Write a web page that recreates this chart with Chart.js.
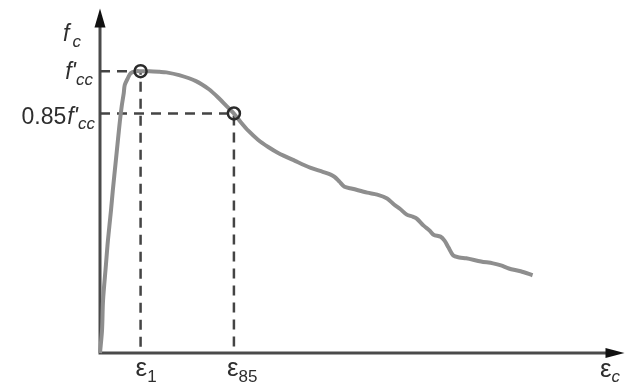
<!DOCTYPE html>
<html>
<head>
<meta charset="utf-8">
<script src="https://cdn.jsdelivr.net/npm/chart.js@4"></script>
<style>
  body { margin: 0; background: #fff; }
  #wrap { width: 633px; height: 383px; }
</style>
</head>
<body>
<div id="wrap"><canvas id="canvas"></canvas></div>
<script>
// strain in units where eps1 = 2.0, stress as fraction of f'cc
var strain = [0, 0.1, 0.15, 0.29, 0.39, 0.54, 0.63, 0.78, 0.88, 0.98, 1.07, 1.17, 1.22, 1.37, 1.51, 1.76, 2.0,
  2.44, 2.93, 3.27, 3.9, 4.73, 5.37, 5.85, 6.24, 6.6, 6.93, 7.32, 7.8, 8.29, 8.78, 9.61, 10.39, 10.98,
  11.37, 11.56, 11.8, 12.05, 12.44, 13.17, 13.66, 14.15, 14.49, 14.78, 15.12, 15.41, 15.61, 15.95, 16.24,
  16.44, 16.78, 16.98, 17.17, 17.41, 17.71, 18.05, 18.78, 19.37, 19.76, 20.15, 20.73, 21.32];
var stress = [0, 0.081, 0.187, 0.311, 0.399, 0.505, 0.576, 0.682, 0.753, 0.823, 0.876, 0.922, 0.951, 0.975, 0.993, 1.0, 1.0,
  1.0, 0.998, 0.996, 0.986, 0.965, 0.936, 0.905, 0.876, 0.85, 0.82, 0.788, 0.756, 0.731, 0.71, 0.682, 0.657, 0.643,
  0.633, 0.625, 0.608, 0.59, 0.583, 0.569, 0.562, 0.548, 0.527, 0.512, 0.491, 0.484, 0.477, 0.452, 0.435,
  0.42, 0.413, 0.399, 0.375, 0.346, 0.339, 0.336, 0.325, 0.318, 0.311, 0.3, 0.29, 0.276];
var keyStrain = [2.0, 6.6];   // eps1, eps85
var keyStress = [1.0, 0.85];  // f'cc, 0.85 f'cc
var X_MAX = 25.85;
var Y_MAX = 1.2226;

var ink = '#2e2e2e';
var axisColor = '#4a4a4a';
var curveColor = '#8e8e8e';

function pts(xs, ys) {
  return xs.map(function(v, i) { return { x: v, y: ys[i] }; });
}

function guide(i) {
  return [{ x: 0, y: keyStress[i] }, { x: keyStrain[i], y: keyStress[i] }, { x: keyStrain[i], y: 0 }];
}

// draw text pieces (main + subscript) starting at x, or ending at x when align is 'right'
function drawPieces(ctx, x, base, pieces, align) {
  var total = 0;
  pieces.forEach(function(p) {
    ctx.font = p.font;
    total += ctx.measureText(p.t).width + (p.gap || 0);
  });
  var cx = align === 'right' ? x - total : x;
  ctx.textAlign = 'left';
  ctx.textBaseline = 'alphabetic';
  pieces.forEach(function(p) {
    ctx.font = p.font;
    cx += (p.gap || 0);
    ctx.fillText(p.t, cx, base + (p.dy || 0));
    cx += ctx.measureText(p.t).width;
  });
}

var MAIN = '23px "Liberation Sans", Arial, sans-serif';
var MAIN_IT = 'italic 23px "Liberation Sans", Arial, sans-serif';
var SUB = '17px "Liberation Sans", Arial, sans-serif';
var SUB_IT = 'italic 17px "Liberation Sans", Arial, sans-serif';
var EPS = '26px "Liberation Sans", Arial, sans-serif';

var axesPlugin = {
  id: 'axesPlugin',
  beforeDatasetsDraw: function(chart) {
    var ctx = chart.ctx, x = chart.scales.x, y = chart.scales.y;
    var x0 = x.getPixelForValue(0), y0 = y.getPixelForValue(0);
    var xEnd = x.getPixelForValue(X_MAX), yTop = y.getPixelForValue(Y_MAX);
    ctx.save();
    ctx.strokeStyle = axisColor;
    ctx.fillStyle = '#111';
    ctx.lineWidth = 3;
    ctx.beginPath();
    ctx.moveTo(x0, yTop + 12);
    ctx.lineTo(x0, y0);
    ctx.lineTo(xEnd - 12, y0);
    ctx.stroke();
    // arrow heads
    ctx.beginPath();
    ctx.moveTo(x0, yTop);
    ctx.lineTo(x0 - 5.5, yTop + 19);
    ctx.lineTo(x0 + 5.5, yTop + 19);
    ctx.closePath();
    ctx.fill();
    ctx.beginPath();
    ctx.moveTo(xEnd, y0);
    ctx.lineTo(xEnd - 19, y0 - 5);
    ctx.lineTo(xEnd - 19, y0 + 5);
    ctx.closePath();
    ctx.fill();
    ctx.restore();
  },
  afterDraw: function(chart) {
    var ctx = chart.ctx, x = chart.scales.x, y = chart.scales.y;
    var x0 = x.getPixelForValue(0), y0 = y.getPixelForValue(0);
    var yTop = y.getPixelForValue(Y_MAX);
    ctx.save();
    ctx.fillStyle = ink;
    // y labels
    drawPieces(ctx, x0 - 19, yTop + 32, [
      { t: 'f', font: MAIN_IT },
      { t: 'c', font: SUB_IT, dy: 6, gap: 3 }
    ], 'right');
    var yPeak = y.getPixelForValue(keyStress[0]);
    drawPieces(ctx, x0 - 7, yPeak + 8, [
      { t: "f'", font: MAIN_IT },
      { t: 'cc', font: SUB_IT, dy: 6 }
    ], 'right');
    var y85 = y.getPixelForValue(keyStress[1]);
    drawPieces(ctx, x0 - 5, y85 + 11, [
      { t: '0.85', font: MAIN },
      { t: "f'", font: MAIN_IT, gap: 1 },
      { t: 'cc', font: SUB_IT, dy: 5 }
    ], 'right');
    // x labels
    drawPieces(ctx, x.getPixelForValue(keyStrain[0]) - 5, y0 + 23, [
      { t: 'ε', font: EPS },
      { t: '1', font: SUB, dy: 6 }
    ]);
    drawPieces(ctx, x.getPixelForValue(keyStrain[1]) - 7, y0 + 23, [
      { t: 'ε', font: EPS },
      { t: '85', font: SUB, dy: 6 }
    ]);
    drawPieces(ctx, 600, y0 + 24, [
      { t: 'ε', font: EPS },
      { t: 'c', font: SUB_IT, dy: 5 }
    ]);
    ctx.restore();
  }
};

var dashStyle = {
  showLine: true,
  borderColor: '#444',
  borderWidth: 2.5,
  borderDash: [10, 7],
  pointRadius: 0,
  fill: false,
  clip: false
};

var config = {
  type: 'scatter',
  data: {
    datasets: [
      {
        label: 'key points',
        data: pts(keyStrain, keyStress),
        pointRadius: 6,
        pointBorderWidth: 2.5,
        pointBorderColor: '#2a2a2a',
        pointBackgroundColor: 'rgba(0,0,0,0)',
        showLine: false,
        clip: false
      },
      {
        label: 'curve',
        data: pts(strain, stress),
        showLine: true,
        borderColor: curveColor,
        borderWidth: 4,
        tension: 0.3,
        pointRadius: 0,
        fill: false,
        clip: false
      },
      Object.assign({ label: 'peak', data: guide(0) }, dashStyle),
      Object.assign({ label: 'eps85', data: guide(1) }, dashStyle)
    ]
  },
  options: {
    responsive: true,
    maintainAspectRatio: false,
    animation: false,
    layout: { padding: { left: 100, right: 3, top: 7, bottom: 30 } },
    scales: {
      x: { type: 'linear', min: 0, max: X_MAX, display: false },
      y: { type: 'linear', min: 0, max: Y_MAX, display: false }
    },
    plugins: {
      legend: { display: false },
      tooltip: { enabled: false }
    }
  },
  plugins: [axesPlugin]
};

var ctx = document.getElementById('canvas').getContext('2d');
var chart = new Chart(ctx, config);
</script>
</body>
</html>
